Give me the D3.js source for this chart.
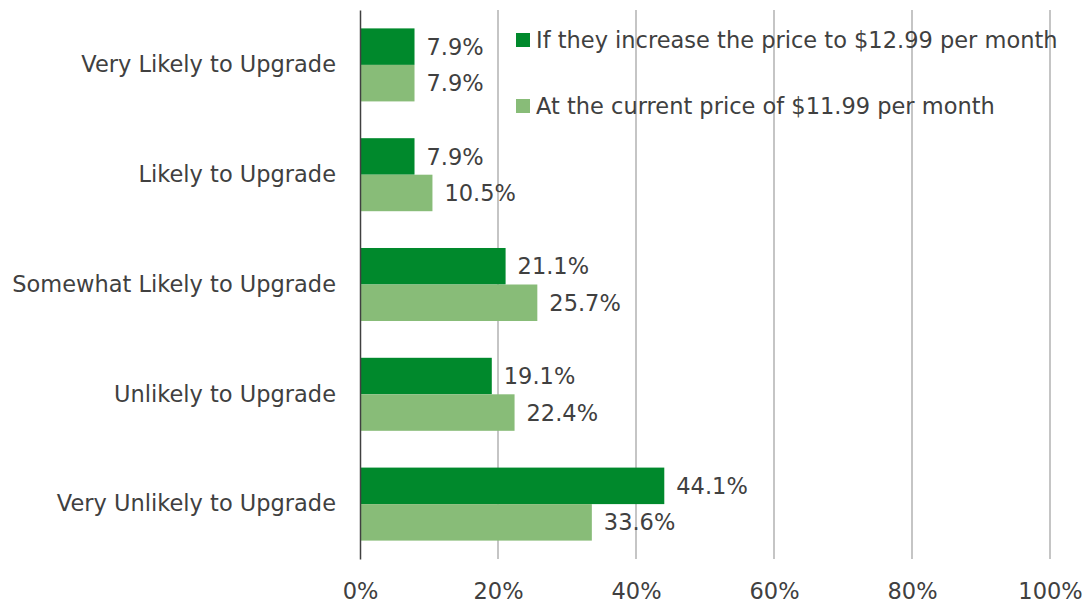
<!DOCTYPE html>
<html>
<head>
<meta charset="utf-8">
<script src="https://cdn.jsdelivr.net/npm/d3@7"></script>
<style>
  body { margin: 0; background: #fff; }
  svg text { font-family: "DejaVu Sans", Verdana, sans-serif; fill: #404040; }
</style>
</head>
<body>
<svg id="chart" width="1088" height="606"></svg>
<script>
// categories top to bottom
const categories = [
  "Very Likely to Upgrade",
  "Likely to Upgrade",
  "Somewhat Likely to Upgrade",
  "Unlikely to Upgrade",
  "Very Unlikely to Upgrade"
];
const seriesNames = [
  "If they increase the price to $12.99 per month",
  "At the current price of $11.99 per month"
];
const increasedPrice = [7.9, 7.9, 21.1, 19.1, 44.1];
const currentPrice = [7.9, 10.5, 25.7, 22.4, 33.6];
const xTicks = [0, 20, 40, 60, 80, 100];
const colors = ["#00892c", "#88bc78"];
const fontSize = "22.5px";

const svg = d3.select("#chart");
const plotLeft = 360, plotRight = 1050, plotTop = 10, plotBottom = 559;

const x = d3.scaleLinear().domain([0, 100]).range([plotLeft, plotRight]);
const y = d3.scaleBand().domain(categories).range([plotTop, plotBottom])
  .paddingInner(0.335).paddingOuter(0.1675);
const sub = d3.scaleBand().domain([0, 1]).range([0, y.bandwidth()]);

// gridlines
svg.append("g")
  .selectAll("line")
  .data(xTicks.slice(1))
  .enter()
  .append("line")
  .attr("x1", d => x(d)).attr("x2", d => x(d))
  .attr("y1", plotTop).attr("y2", plotBottom)
  .attr("stroke", "#a6a6a6")
  .attr("stroke-width", 1.3);

// x tick labels
const xAxis = svg.append("g")
  .attr("transform", `translate(0,${plotBottom})`)
  .call(d3.axisBottom(x).tickValues(xTicks).tickSize(0).tickPadding(24).tickFormat(d => d + "%"));
xAxis.select(".domain").remove();
xAxis.selectAll("text").style("font-size", fontSize).attr("fill", "#404040");

// bars
const rows = categories.map((c, i) => ({ cat: c, vals: [increasedPrice[i], currentPrice[i]] }));
const groups = svg.append("g").selectAll("g")
  .data(rows)
  .enter()
  .append("g")
  .attr("transform", d => `translate(0,${y(d.cat)})`);

groups.selectAll("rect")
  .data(d => d.vals.map((v, s) => ({ v, s })))
  .enter()
  .append("rect")
  .attr("x", x(0))
  .attr("y", d => sub(d.s))
  .attr("width", d => x(d.v) - x(0))
  .attr("height", sub.bandwidth())
  .attr("fill", d => colors[d.s]);

groups.selectAll("text")
  .data(d => d.vals.map((v, s) => ({ v, s })))
  .enter()
  .append("text")
  .attr("x", d => x(d.v) + 12)
  .attr("y", d => sub(d.s) + sub.bandwidth() / 2)
  .attr("dy", "0.36em")
  .style("font-size", fontSize)
  .text(d => d.v.toFixed(1) + "%");

// category axis
const yAxis = svg.append("g")
  .attr("transform", `translate(${plotLeft},0)`)
  .call(d3.axisLeft(y).tickSize(0).tickPadding(24));
yAxis.select(".domain").attr("stroke", "#404040").attr("stroke-width", 1.5);
yAxis.selectAll("text").style("font-size", fontSize).attr("fill", "#404040");

// legend
const legend = svg.append("g").selectAll("g")
  .data(seriesNames)
  .enter()
  .append("g")
  .attr("transform", (d, i) => `translate(516,${40 + i * 66})`);
legend.append("rect")
  .attr("x", 0).attr("y", -7)
  .attr("width", 14).attr("height", 14)
  .attr("fill", (d, i) => colors[i]);
legend.append("text")
  .attr("x", 20).attr("y", 0)
  .attr("dy", "0.36em")
  .style("font-size", fontSize)
  .text(d => d);
</script>
</body>
</html>
